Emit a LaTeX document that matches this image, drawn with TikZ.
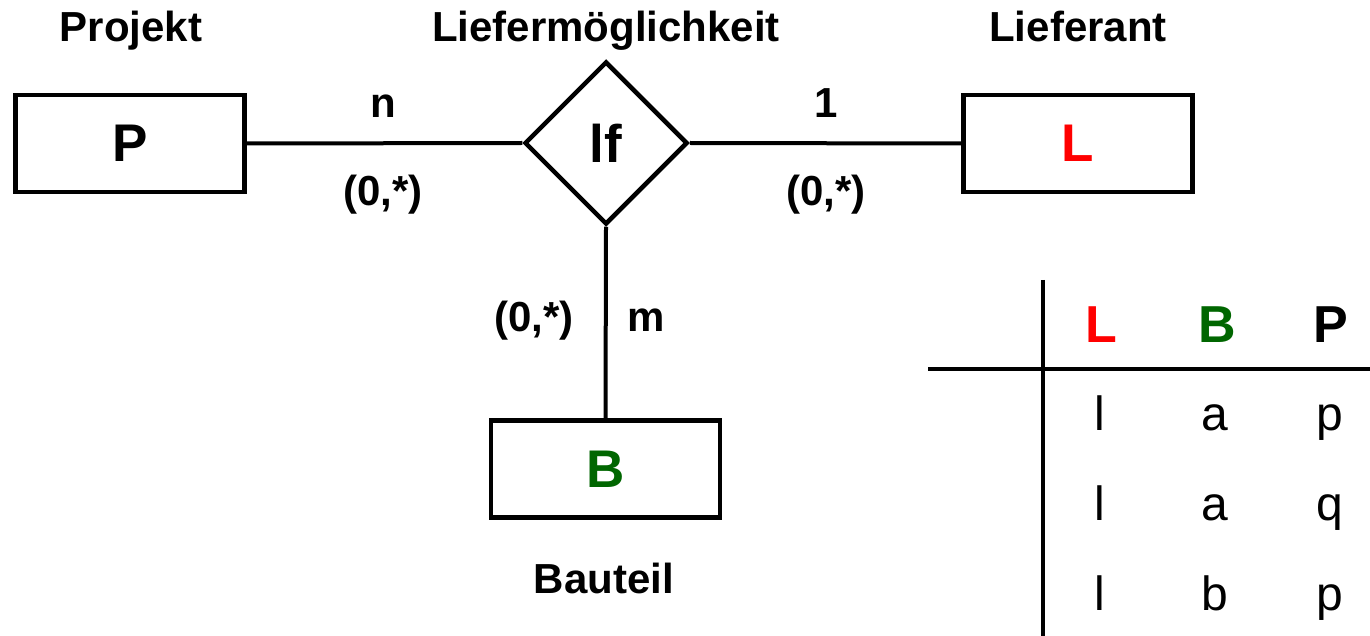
\documentclass[tikz,border=0pt]{standalone}
\usepackage{fontspec}
\setmainfont{Liberation Sans}
\usetikzlibrary{shapes.geometric}
\definecolor{lred}{RGB}{255,0,0}
\definecolor{bgreen}{RGB}{0,102,0}
\begin{document}
\begin{tikzpicture}[x=1pt,y=-1pt,
  ent/.style={draw, line width=4.5pt, minimum width=229pt, minimum height=97pt, inner sep=0pt, font=\fontsize{53}{60}\selectfont\bfseries},
  rel/.style={draw, diamond, aspect=1, line width=4.5pt, minimum width=163pt, minimum height=163pt, inner sep=0pt, font=\fontsize{53}{60}\selectfont\bfseries},
  lbl/.style={anchor=base, inner sep=0pt, font=\fontsize{42}{48}\selectfont\bfseries},
  conn/.style={line width=4pt},
  tline/.style={line width=3.5pt},
  thead/.style={anchor=base, inner sep=0pt, font=\fontsize{52}{60}\selectfont\bfseries},
  tcell/.style={anchor=base, inner sep=0pt, font=\fontsize{48}{56}\selectfont}]
\useasboundingbox (0,0) rectangle (1370,636);
% entities and relationship
\node[ent] (P) at (130,143.5) {P};
\node[ent, text=lred] (L) at (1078,143.5) {L};
\node[ent, text=bgreen] (B) at (605.5,469) {B};
\node[rel] (lf) at (606,143) {lf};
% connectors
\draw[conn] (P.east) -- (lf.west);
\draw[conn] (lf.east) -- (L.west);
\draw[conn] (lf.south) -- (B.north);
% labels
\node[lbl] (tProjekt) at (131,42) {Projekt};
\node[lbl] (tLief) at (606,42) {Liefermöglichkeit};
\node[lbl] (tLieferant) at (1078,42) {Lieferant};
\node[lbl] (tn) at (383,118) {n};
\node[lbl] (tnc) at (383,206) {(0,*)};
\node[lbl] (tone) at (826,118) {1};
\node[lbl] (tonec) at (826,206) {(0,*)};
\node[lbl] (tmc) at (534,331) {(0,*)};
\node[lbl] (tm) at (646,331) {m};
\node[lbl] (tBauteil) at (604,593) {Bauteil};
% table
\coordinate (vtop) at (1043,280);
\coordinate (vbot) at (1043,640);
\coordinate (hl) at (928,369);
\coordinate (hr) at (1374,369);
\draw[tline] (vtop) -- (vbot);
\draw[tline] (hl) -- (hr);
\node[thead, text=lred] (hL) at (1101,342) {L};
\node[thead, text=bgreen] (hB) at (1217,342) {B};
\node[thead] (hP) at (1331,342) {P};
\node[tcell] (r1a) at (1100,430) {l};
\node[tcell] (r1b) at (1215,430) {a};
\node[tcell] (r1c) at (1330,430) {p};
\node[tcell] (r2a) at (1100,520) {l};
\node[tcell] (r2b) at (1215,520) {a};
\node[tcell] (r2c) at (1330,520) {q};
\node[tcell] (r3a) at (1100,610) {l};
\node[tcell] (r3b) at (1215,610) {b};
\node[tcell] (r3c) at (1330,610) {p};
\end{tikzpicture}
\end{document}
